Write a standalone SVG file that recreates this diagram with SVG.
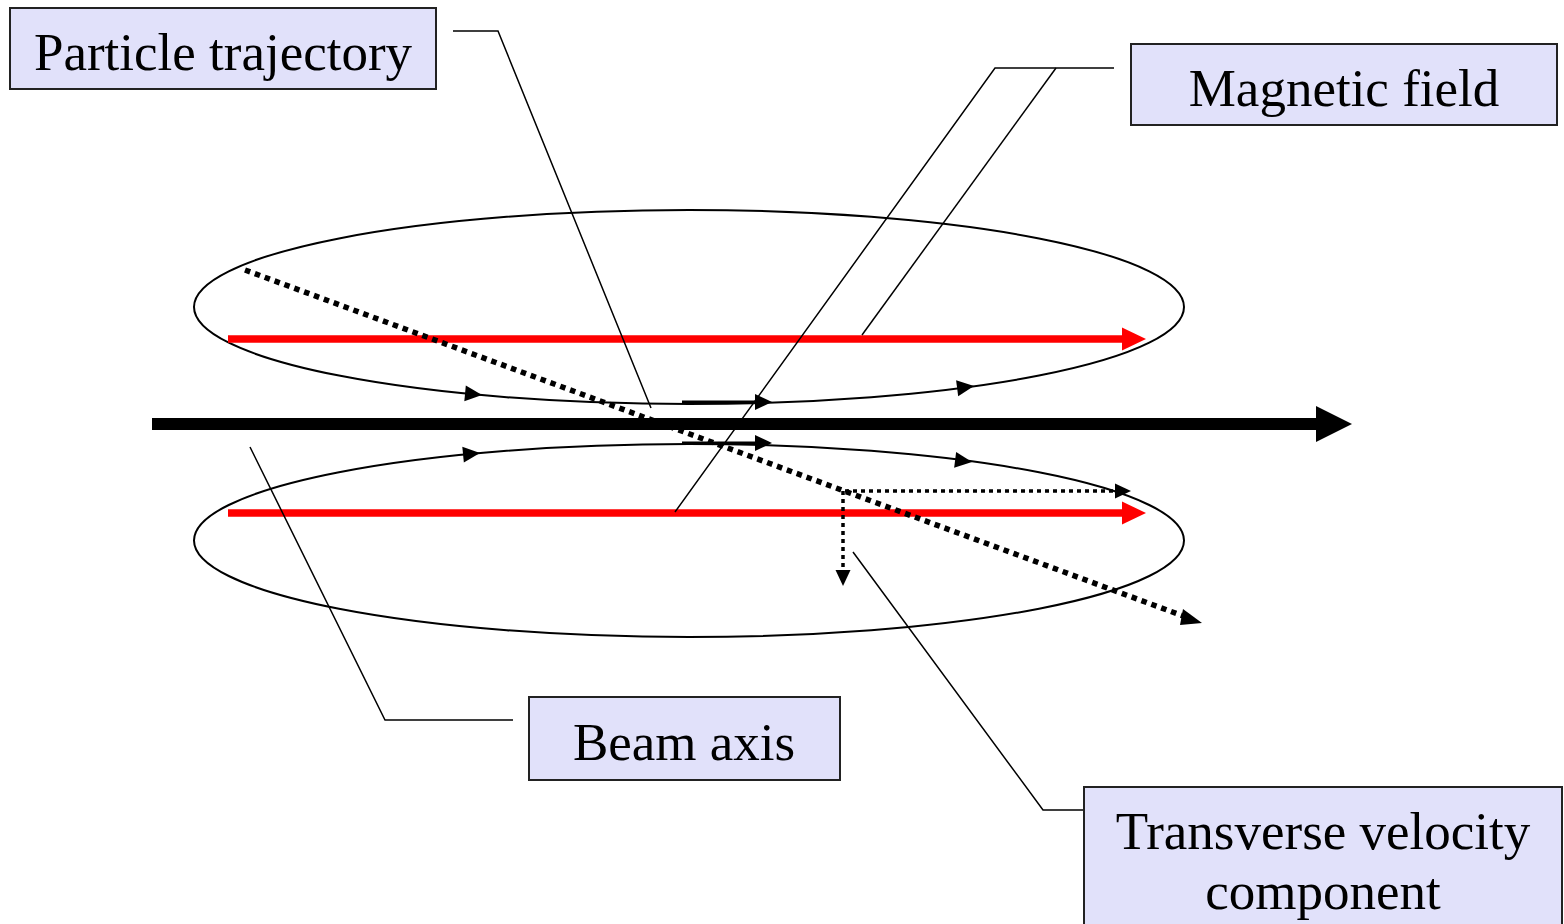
<svg xmlns="http://www.w3.org/2000/svg" width="1564" height="924" viewBox="0 0 1564 924">
<style>
.box{fill:#e1e1fa;stroke:#222;stroke-width:2}
.lbl{font-family:"Liberation Serif","Times New Roman",serif;font-size:53px;fill:#000;text-anchor:middle}
.lead{fill:none;stroke:#000;stroke-width:1.5}
.ell{fill:none;stroke:#000;stroke-width:2}
</style>
<defs>
<polygon id="tri" points="0,0 -17,-8 -17,8" fill="#000"/>
</defs>
<rect width="1564" height="924" fill="#fff"/>
<g id="ellipses">
<ellipse class="ell" cx="689" cy="307" rx="495" ry="97"/>
<ellipse class="ell" cx="689" cy="540.5" rx="495" ry="96.5"/>
<use href="#tri" transform="translate(482,395) rotate(5.4)"/>
<use href="#tri" transform="translate(974,386) rotate(-7.5)"/>
<use href="#tri" transform="translate(480,453) rotate(-5.5)"/>
<use href="#tri" transform="translate(972,462) rotate(7.3)"/>
<line x1="682" y1="402" x2="760" y2="402" stroke="#000" stroke-width="3"/>
<use href="#tri" transform="translate(772,402)"/>
<line x1="682" y1="443" x2="760" y2="443" stroke="#000" stroke-width="3"/>
<use href="#tri" transform="translate(772,443)"/>
</g>
<g id="field-lines">
<line x1="228" y1="339" x2="1124" y2="339" stroke="#f00" stroke-width="7.5"/>
<polygon points="1146,339 1122,327.5 1122,350.5" fill="#f00"/>
<line x1="228" y1="513" x2="1124" y2="513" stroke="#f00" stroke-width="7.5"/>
<polygon points="1146,513 1122,501.5 1122,524.5" fill="#f00"/>
</g>
<g id="beam">
<line x1="152" y1="424" x2="1318" y2="424" stroke="#000" stroke-width="12"/>
<polygon points="1352,424 1316,406 1316,442" fill="#000"/>
</g>
<g id="trajectory">
<line x1="245" y1="270" x2="1186" y2="617" stroke="#000" stroke-width="5.5" stroke-dasharray="5.5,5"/>
<polygon points="1202,623 1183,609 1180,625" fill="#000"/>
<line x1="845" y1="491" x2="1116" y2="491" stroke="#000" stroke-width="3.5" stroke-dasharray="4,4"/>
<polygon points="1131,491 1115,483.5 1115,498.5" fill="#000"/>
<line x1="843" y1="491" x2="843" y2="572" stroke="#000" stroke-width="3.5" stroke-dasharray="4,4"/>
<polygon points="843,586 835.5,570 850.5,570" fill="#000"/>
</g>
<g id="connectors">
<polyline class="lead" points="453,31 498,31 651,408"/>
<polyline class="lead" points="675,512 995,68 1114,68"/>
<line class="lead" x1="862" y1="335" x2="1056" y2="68"/>
<polyline class="lead" points="250,447 385,720 513,720"/>
<polyline class="lead" points="853,552 1043,810 1083,810"/>
</g>
<g id="node-particle">
<rect class="box" x="10" y="8" width="426" height="81"/>
<text class="lbl" x="223" y="70">Particle trajectory</text>
</g>
<g id="node-magnetic">
<rect class="box" x="1131" y="44" width="426" height="81"/>
<text class="lbl" x="1344" y="106">Magnetic field</text>
</g>
<g id="node-beam">
<rect class="box" x="529" y="697" width="311" height="83"/>
<text class="lbl" x="684" y="760">Beam axis</text>
</g>
<g id="node-transverse">
<rect class="box" x="1084" y="787" width="478" height="200"/>
<text class="lbl" x="1323" y="849">Transverse velocity</text>
<text class="lbl" x="1323" y="909">component</text>
</g>
</svg>
